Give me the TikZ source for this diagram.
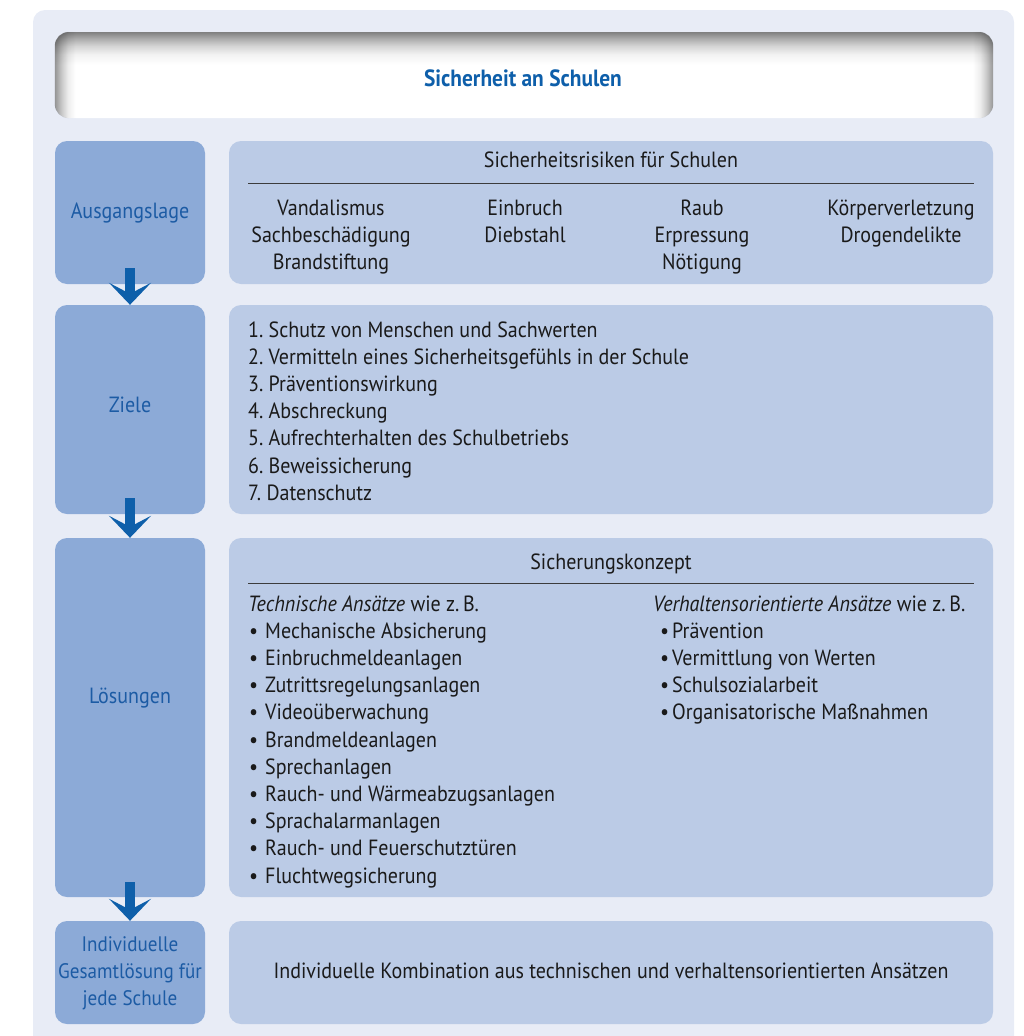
\documentclass[tikz,border=0pt]{standalone}
\usepackage{fontspec}
\setmainfont{PT Sans}[FakeStretch=0.91]
\usepackage{xcolor}
\usetikzlibrary{arrows.meta,positioning,calc}

\definecolor{bgblue}{HTML}{E8ECF6}
\definecolor{leftblue}{HTML}{8CAAD7}
\definecolor{rightblue}{HTML}{BBCBE6}
\definecolor{arrowblue}{HTML}{0E5FAA}
\definecolor{labelblue}{HTML}{1C5BA4}
\definecolor{inkgray}{HTML}{1A1A1A}

\pgfdeclareverticalshading{hdrshade}{100bp}{color(0bp)=(white); color(56bp)=(white); color(62bp)=(black!5); color(67bp)=(black!17); color(71.5bp)=(black!34); color(75bp)=(black!50); color(100bp)=(black!50)}
\pgfdeclarehorizontalshading{sideshade}{100bp}{color(0bp)=(black!42); color(25bp)=(black!42); color(25.35bp)=(black!22); color(25.7bp)=(black!7); color(26.1bp)=(white); color(73.9bp)=(white); color(74.3bp)=(black!7); color(74.65bp)=(black!22); color(75bp)=(black!42); color(100bp)=(black!42)}

\tikzset{
    leftbox/.style={fill=leftblue, rounded corners=12pt, minimum width=150pt, inner sep=0pt},
    rightbox/.style={fill=rightblue, rounded corners=12pt, minimum width=764pt, inner sep=0pt},
    lbl/.style={text=labelblue, inner sep=0pt, font=\fontsize{22}{27}\selectfont},
    txt/.style={text=inkgray, inner sep=0pt, font=\fontsize{22}{27}\selectfont},
    rule/.style={draw=inkgray!85, line width=1pt},
    flow/.style={-{Stealth[length=22pt,width=42pt,inset=11pt]}, line width=10pt, draw=arrowblue, fill=arrowblue}
}

\begin{document}
\begin{tikzpicture}[x=1pt,y=-1pt]
    \useasboundingbox (0,0) rectangle (1024,1036);

    % Background panel
    \fill[bgblue] (33,1036) {[rounded corners=12pt] -- (33,10) -- (1014,10)} -- (1014,1036) -- cycle;

    % Header
    \node[shading=hdrshade, rounded corners=14pt, minimum width=938pt, minimum height=86pt, inner sep=0pt] (hdr) at (524,75) {};
    \begin{scope}[blend mode=multiply]
        \shade[shading=sideshade, rounded corners=14pt] (hdr.north west) rectangle (hdr.south east);
    \end{scope}
    \node[text=arrowblue, inner sep=0pt, anchor=base, font=\fontsize{23.5}{27}\selectfont\bfseries] (title) at (523,86) {Sicherheit an Schulen};

    % Left column
    \node[leftbox, minimum height=143pt] (ausg) at (130,212.5) {};
    \node[leftbox, minimum height=209pt] (ziele) at (130,409.5) {};
    \node[leftbox, minimum height=359pt] (loes) at (130,717.5) {};
    \node[leftbox, minimum height=103pt] (ges) at (130,972.5) {};

    \node[lbl, anchor=base] (ausgT) at (130,218) {Ausgangslage};
    \node[lbl, anchor=base] (zieleT) at (130,412) {Ziele};
    \node[lbl, anchor=base] (loesT) at (130,703) {Lösungen};
    \node[lbl, align=center, font=\fontsize{21}{27}\selectfont] (gesT) at (130,973) {Individuelle\\Gesamtlösung für\\jede Schule};

    % Arrows
    \draw[flow] ([yshift=16pt]ausg.south) -- (ziele.north);
    \draw[flow] ([yshift=16pt]ziele.south) -- (loes.north);
    \draw[flow] ([yshift=15pt]loes.south) -- (ges.north);

    % Right column
    \node[rightbox, minimum height=143pt] (risk) at (611,212.5) {};
    \node[rightbox, minimum height=209pt] (goal) at (611,409.5) {};
    \node[rightbox, minimum height=359pt] (conc) at (611,717.5) {};
    \node[rightbox, minimum height=103pt] (comb) at (611,972.5) {};

    % Sicherheitsrisiken
    \node[txt, anchor=base] (riskH) at (611,167) {Sicherheitsrisiken für Schulen};
    \draw[rule] (248,183) -- (974,183);
    \foreach \t [count=\j from 0] in {Vandalismus, Sachbeschädigung, Brandstiftung}
        \node[txt, anchor=base] (rA\j) at (331,215+27*\j) {\t};
    \foreach \t [count=\j from 0] in {Einbruch, Diebstahl}
        \node[txt, anchor=base] (rB\j) at (525,215+27*\j) {\t};
    \foreach \t [count=\j from 0] in {Raub, Erpressung, Nötigung}
        \node[txt, anchor=base] (rC\j) at (702,215+27*\j) {\t};
    \foreach \t [count=\j from 0] in {Körperverletzung, Drogendelikte}
        \node[txt, anchor=base] (rD\j) at (901,215+27*\j) {\t};

    % Ziele
    \foreach \t [count=\i] in {Schutz von Menschen und Sachwerten, Vermitteln eines Sicherheitsgefühls in der Schule, Präventionswirkung, Abschreckung, Aufrechterhalten des Schulbetriebs, Beweissicherung, Datenschutz}
        \node[txt, anchor=base west] (g\i) at (248,309.8+27.2*\i) {\i.\ \t};

    % Sicherungskonzept
    \node[txt, anchor=base] (concH) at (611,569) {Sicherungskonzept};
    \draw[rule] (248,583) -- (974,583);
    \node[txt, anchor=base west] (techH) at (248,611) {\textit{Technische Ansätze} wie z.\,B.};
    \foreach \t [count=\i] in {Mechanische Absicherung, Einbruchmeldeanlagen, Zutrittsregelungsanlagen, Videoüberwachung, Brandmeldeanlagen, Sprechanlagen, Rauch- und Wärmeabzugsanlagen, Sprachalarmanlagen, Rauch- und Feuerschutztüren, Fluchtwegsicherung}
        \node[txt, anchor=base west] (tech\i) at (249,611+27.2*\i) {\makebox[16pt][l]{\textbullet}\t};
    \node[txt, anchor=base west] (behH) at (653,611) {\textit{Verhaltensorientierte Ansätze} wie z.\,B.};
    \foreach \t [count=\i] in {Prävention, Vermittlung von Werten, Schulsozialarbeit, Organisatorische Maßnahmen}
        \node[txt, anchor=base west] (beh\i) at (660,611+27.2*\i) {\makebox[12pt][l]{\textbullet}\t};

    % Kombination
    \node[txt, anchor=base] (combT) at (611,978) {Individuelle Kombination aus technischen und verhaltensorientierten Ansätzen};
\end{tikzpicture}
\end{document}
